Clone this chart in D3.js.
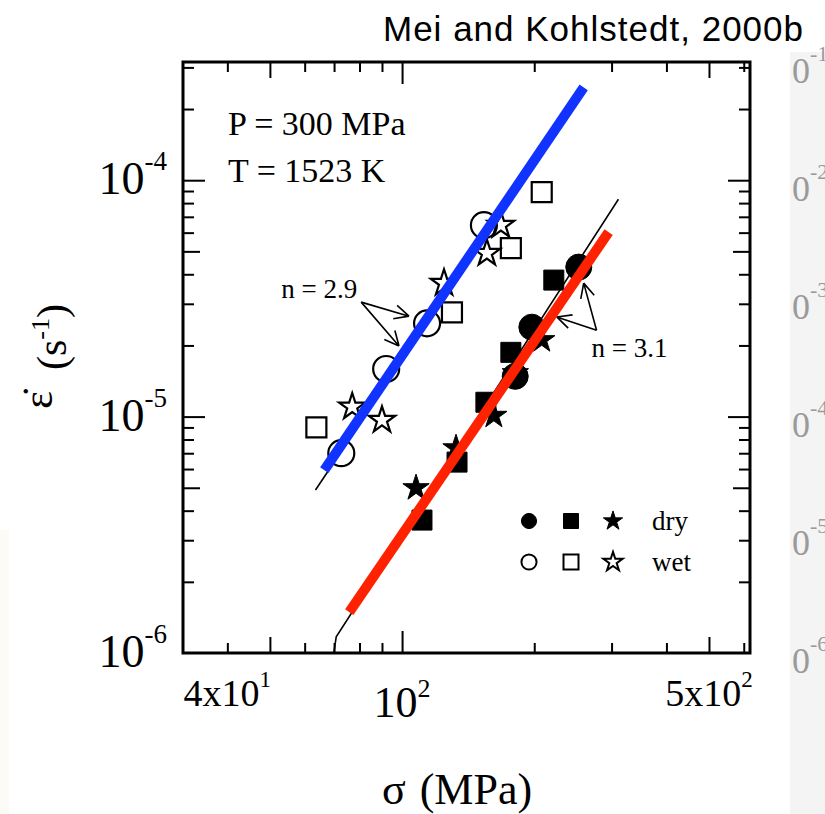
<!DOCTYPE html>
<html>
<head>
<meta charset="utf-8">
<script src="https://cdn.jsdelivr.net/npm/d3@7"></script>
<style>
body { margin: 0; background: #fff; }
svg { display: block; }
</style>
</head>
<body>
<svg id="chart"></svg>
<script>
// strain rate vs stress (MPa, 1/s)
var wetCircles = [[72.7, 7.0e-6], [92.0, 1.59e-5], [114, 2.48e-5], [153.6, 6.45e-5]];
var wetSquares = [[63.8, 9.0e-6], [129.9, 2.76e-5], [176.9, 5.16e-5], [208, 8.9e-5]];
var wetStars = [[77, 1.10e-5], [90, 9.66e-6], [124.6, 3.67e-5], [156, 4.91e-5], [167.9, 6.45e-5]];
var dryCircles = [[181, 1.48e-5], [197.5, 2.39e-5], [252.6, 4.29e-5]];
var drySquares = [[111, 3.65e-6], [133.4, 6.42e-6], [155.2, 1.15e-5], [176.9, 1.87e-5], [221.6, 3.78e-5]];
var dryStars = [[107.6, 4.99e-6], [132.7, 7.36e-6], [161.8, 1.01e-5], [181.1, 1.53e-5], [208, 2.11e-5]];

// fit lines
var blueFit = [[66.5, 5.94e-6], [259.2, 2.47e-4]];
var redFit = [[75.8, 1.49e-6], [295.4, 6.03e-5]];
var wetFitThin = [[63.5, 4.89e-6], [250, 2.2e-4]];
var dryFitThin = [[69.9, 1.0e-6], [70.8, 1.17e-6], [311, 8.31e-5]];

// annotation arrows (origin, tips)
var arrows29 = {label: 'n = 2.9', from: [80.7, 3.05e-5], to: [[103.7, 2.66e-5], [98.4, 1.99e-5]]};
var arrows31 = {label: 'n = 3.1', from: [277.3, 2.32e-5], to: [[259.2, 3.67e-5], [225, 2.64e-5]]};

// ticks
var xMajor = [100], xMid = [50, 500], xMinor = [40, 60, 70, 80, 90, 200, 300, 400, 600];
var yMajor = [1e-5, 1e-4], yMid = [5e-6, 5e-5];
var yMinor = [2e-6, 3e-6, 4e-6, 6e-6, 7e-6, 8e-6, 9e-6, 2e-5, 3e-5, 4e-5, 6e-5, 7e-5, 8e-5, 9e-5, 2e-4, 3e-4];
var xLabels = [{v: 40, pre: '4x10', sup: '1'}, {v: 100, pre: '10', sup: '2'}, {v: 500, pre: '5x10', sup: '2'}];
var yLabels = [{v: 1e-4, sup: '-4'}, {v: 1e-5, sup: '-5'}, {v: 1e-6, sup: '-6'}];
var stripLabels = ['-1', '-2', '-3', '-4', '-5', '-6'];

var W = 825, H = 814;
var margin = {top: 62, right: 75, bottom: 161, left: 183};
var width = W - margin.left - margin.right;
var height = H - margin.top - margin.bottom;
var serif = 'Liberation Serif, Times New Roman, serif';

var svg = d3.select('#chart').attr('width', W).attr('height', H);

// bits of the neighbouring panel / scan edges
svg.append('rect').attr('x', 0).attr('y', 530).attr('width', 9).attr('height', H - 530).attr('fill', '#fdfbf6');
svg.append('rect').attr('x', 790).attr('y', 52).attr('width', 35).attr('height', H - 52).attr('fill', '#f4f4f4');
stripLabels.forEach(function (s, i) {
    var t = svg.append('text').attr('x', 792).attr('y', 83 + i * 118)
        .attr('font-family', serif).attr('font-size', 36).attr('fill', '#9a9a9a').text('0');
    t.append('tspan').attr('dy', -22).attr('font-size', 22).text(s);
});

svg.append('text').attr('x', 383).attr('y', 41)
    .attr('font-family', 'Liberation Sans, Arial, sans-serif').attr('font-size', 35)
    .attr('textLength', 420).text('Mei and Kohlstedt, 2000b');

var g = svg.append('g').attr('transform', 'translate(' + margin.left + ',' + margin.top + ')');

var x = d3.scaleLog().domain([31.7, 620]).range([0, width]);
var y = d3.scaleLog().domain([1e-6, Math.pow(10, -3.5)]).range([height, 0]);

function ticks(axis, vals, len, tr) {
    g.append('g').attr('transform', tr || null)
        .call(axis.tickValues(vals).tickSize(-len).tickFormat('').tickSizeOuter(0))
        .call(function (a) { a.select('.domain').remove(); })
        .selectAll('line').attr('stroke', '#000').attr('stroke-width', 2);
}
[[xMajor, 22], [xMid, 16], [xMinor, 10]].forEach(function (d) {
    ticks(d3.axisBottom(x), d[0], d[1], 'translate(0,' + height + ')');
    ticks(d3.axisTop(x), d[0], d[1]);
});
[[yMajor, 22], [yMid, 17], [yMinor, 11]].forEach(function (d) {
    ticks(d3.axisLeft(y), d[0], d[1]);
    ticks(d3.axisRight(y), d[0], d[1], 'translate(' + width + ',0)');
});

g.append('rect').attr('width', width).attr('height', height)
    .attr('fill', 'none').attr('stroke', '#000').attr('stroke-width', 3);

// tick labels
yLabels.forEach(function (d) {
    var t = g.append('text').attr('x', -16).attr('y', y(d.v) + 14).attr('text-anchor', 'end')
        .attr('font-family', serif).attr('font-size', 46).text('10');
    t.append('tspan').attr('dy', -24).attr('font-size', 27).text(d.sup);
});
xLabels.forEach(function (d) {
    var big = d.pre === '10';
    var t = g.append('text').attr('x', x(d.v)).attr('y', big ? height + 64 : height + 53)
        .attr('text-anchor', 'middle').attr('font-family', serif).attr('font-size', big ? 44 : 38).text(d.pre);
    t.append('tspan').attr('dy', big ? -20 : -19).attr('font-size', big ? 26 : 23).text(d.sup);
});

// axis titles
svg.append('text').attr('transform', 'translate(52,400) rotate(-90)')
    .attr('text-anchor', 'middle').attr('font-family', serif).attr('font-size', 42).text('\u03b5\u0307');
var yt = svg.append('text').attr('transform', 'translate(66,337) rotate(-90)')
    .attr('text-anchor', 'middle').attr('font-family', serif).attr('font-size', 42);
yt.append('tspan').text('(s');
yt.append('tspan').attr('dy', -17).attr('font-size', 26).text('-1');
yt.append('tspan').attr('dy', 17).text(')');
var xt = svg.append('text').attr('x', 382).attr('y', 804).attr('font-family', serif).attr('font-size', 44);
xt.append('tspan').text('\u03c3');
xt.append('tspan').attr('dx', 14).text('(MPa)');

// conditions
g.append('text').attr('x', 45).attr('y', 73).attr('font-family', serif).attr('font-size', 34).text('P = 300 MPa');
g.append('text').attr('x', 45).attr('y', 120).attr('font-family', serif).attr('font-size', 34).text('T = 1523 K');

// thin black fits
var line = d3.line().x(function (d) { return x(d[0]); }).y(function (d) { return y(d[1]); });
[wetFitThin, dryFitThin].forEach(function (d) {
    g.append('path').datum(d).attr('d', line).attr('fill', 'none').attr('stroke', '#000').attr('stroke-width', 1.6);
});

// markers
var sym = {
    circle: d3.symbol().type(d3.symbolCircle).size(531),
    square: d3.symbol().type(d3.symbolSquare).size(400),
    star: d3.symbol().type(d3.symbolStar).size(215)
};
function drawPoints(data, kind, filled) {
    g.append('g').selectAll('path')
        .data(data)
        .enter()
        .append('path')
        .attr('transform', function (d) { return 'translate(' + x(d[0]) + ',' + y(d[1]) + ')'; })
        .attr('d', sym[kind])
        .attr('fill', filled ? '#000' : 'none')
        .attr('stroke', '#000')
        .attr('stroke-width', filled ? 1 : 2.2)
        .attr('stroke-linejoin', 'miter');
}
drawPoints(wetCircles, 'circle', false);
drawPoints(wetSquares, 'square', false);
drawPoints(wetStars, 'star', false);
drawPoints(dryCircles, 'circle', true);
drawPoints(drySquares, 'square', true);
drawPoints(dryStars, 'star', true);

// annotations
function drawArrows(a, dx, dy, anchor) {
    var ox = x(a.from[0]), oy = y(a.from[1]);
    a.to.forEach(function (t) {
        var tx = x(t[0]), ty = y(t[1]);
        var ang = Math.atan2(ty - oy, tx - ox);
        var p = d3.path();
        p.moveTo(ox, oy); p.lineTo(tx, ty);
        [-0.45, 0.45].forEach(function (s) {
            p.moveTo(tx, ty);
            p.lineTo(tx - 16 * Math.cos(ang + s), ty - 16 * Math.sin(ang + s));
        });
        g.append('path').attr('d', p.toString()).attr('fill', 'none').attr('stroke', '#000').attr('stroke-width', 1.6);
    });
    g.append('text').attr('x', ox + dx).attr('y', oy + dy).attr('text-anchor', anchor)
        .attr('font-family', serif).attr('font-size', 27).text(a.label);
}
drawArrows(arrows29, -4, -4, 'end');
drawArrows(arrows31, -5, 27, 'start');

// legend
var legend = [{type: d3.symbolCircle, size: 180}, {type: d3.symbolSquare, size: 225}, {type: d3.symbolStar, size: 115}];
[['dry', true, 0], ['wet', false, 41]].forEach(function (row) {
    legend.forEach(function (s, i) {
        g.append('path')
            .attr('transform', 'translate(' + (346 + i * 42) + ',' + (459 + row[2]) + ')')
            .attr('d', d3.symbol().type(s.type).size(s.size))
            .attr('fill', row[1] ? '#000' : 'none').attr('stroke', '#000').attr('stroke-width', row[1] ? 1 : 2);
    });
    g.append('text').attr('x', 469).attr('y', 468 + row[2]).attr('font-family', serif).attr('font-size', 27).text(row[0]);
});

// coloured overlay fits
[[blueFit, '#1133ff'], [redFit, '#ff2200']].forEach(function (d) {
    g.append('path').datum(d[0]).attr('d', line).attr('fill', 'none')
        .attr('stroke', d[1]).attr('stroke-width', 10).attr('stroke-linecap', 'butt');
});
</script>
</body>
</html>
